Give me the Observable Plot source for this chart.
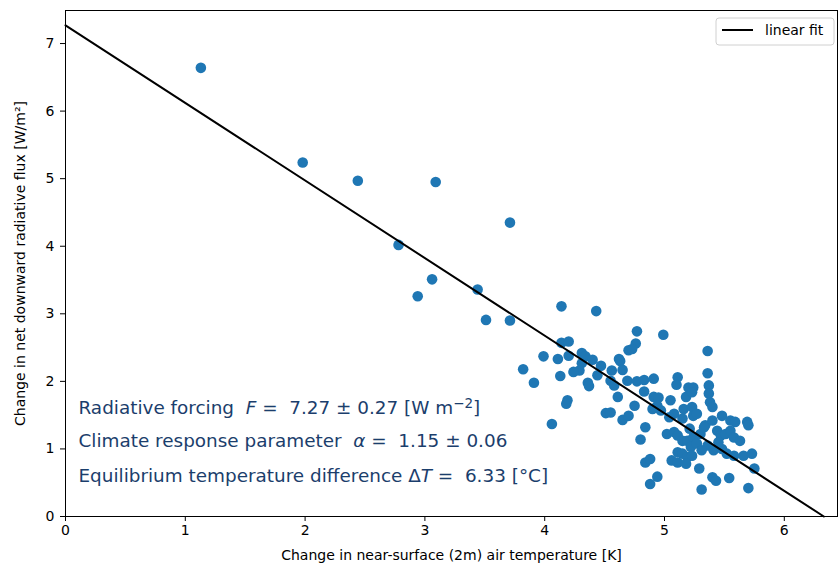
<!DOCTYPE html>
<html>
<head>
<meta charset="utf-8">
<script src="https://cdn.jsdelivr.net/npm/d3@7"></script>
<script src="https://cdn.jsdelivr.net/npm/@observablehq/plot@0.6"></script>
<style>
  html, body { margin: 0; padding: 0; background: #fff; }
  #chart { width: 838px; height: 566px; }
</style>
</head>
<body>
<div id="chart"></div>
<script>
// Temperature change [K] of each simulation
const dTemp = [
  1.13, 1.98, 2.44, 3.09, 3.71, 2.78, 3.06, 2.94, 3.44, 3.51,
  3.71, 4.14, 4.43, 4.14, 4.20, 3.99, 4.11, 4.20, 4.31, 4.34,
  4.40, 4.47, 4.31, 4.29, 4.24, 3.82, 4.13, 3.91, 4.36, 4.37,
  4.44, 4.56, 4.62, 4.63, 4.65, 4.70, 4.69, 4.55, 4.58, 4.61,
  4.19, 4.77, 4.99, 4.76, 4.73, 5.36, 5.36, 4.77, 4.83, 4.91,
  5.11, 5.10, 5.37, 5.20, 5.24, 4.83, 5.37, 4.91, 4.95, 5.05,
  5.18, 4.18, 4.51, 4.55, 4.75, 4.65, 4.70, 4.84, 4.80, 4.84,
  4.88, 4.88, 4.94, 4.90, 4.06, 5.23, 5.38, 4.94, 4.97, 5.08,
  5.04, 5.16, 5.23, 5.24, 5.27, 5.34, 5.40, 5.48, 5.55, 5.59,
  5.69, 5.70, 5.02, 5.08, 5.11, 5.15, 5.19, 5.24, 5.30, 5.33,
  5.44, 5.47, 5.51, 5.55, 5.58, 5.63, 5.22, 5.27, 5.36, 5.31,
  5.11, 5.15, 5.19, 5.23, 5.06, 5.11, 5.18, 5.41, 5.48, 5.52,
  5.58, 5.66, 5.73, 5.75, 5.29, 5.40, 5.43, 5.54, 5.70, 5.31,
  5.40, 5.21, 5.15, 5.45
];
// Net downward radiative flux change [W/m2] of each simulation
const dFlux = [
  6.64, 5.24, 4.97, 4.95, 4.35, 4.02, 3.51, 3.26, 3.36, 2.91,
  2.90, 3.11, 3.04, 2.57, 2.59, 2.37, 2.33, 2.38, 2.42, 2.37,
  2.32, 2.23, 2.27, 2.16, 2.14, 2.18, 2.08, 1.98, 1.98, 1.93,
  2.09, 2.16, 2.33, 2.30, 2.17, 2.46, 2.01, 2.01, 1.94, 1.77,
  1.72, 2.74, 2.69, 2.56, 2.48, 2.45, 2.12, 2.00, 2.02, 2.04,
  2.06, 1.95, 1.94, 1.91, 1.91, 1.85, 1.82, 1.77, 1.76, 1.72,
  1.77, 1.67, 1.53, 1.54, 1.64, 1.43, 1.49, 1.32, 1.14, 0.80,
  0.85, 0.48, 0.59, 1.59, 1.37, 1.84, 1.69, 1.64, 1.57, 1.52,
  1.47, 1.59, 1.62, 1.49, 1.52, 1.35, 1.42, 1.49, 1.42, 1.40,
  1.40, 1.35, 1.22, 1.25, 1.20, 1.12, 1.12, 1.17, 1.22, 1.32,
  1.27, 1.20, 1.22, 1.27, 1.17, 1.12, 1.03, 1.08, 1.05, 0.98,
  0.95, 0.93, 0.88, 0.90, 0.83, 0.80, 0.78, 0.98, 1.00, 0.93,
  0.90, 0.90, 0.93, 0.71, 0.71, 0.58, 0.53, 0.57, 0.42, 0.40,
  1.62, 1.30, 1.45, 1.10
];

// Fit results
const forcing = 7.27, forcingErr = 0.27;
const alpha = 1.15, alphaErr = 0.06;
const eqTemp = 6.33;

const xTicks = [0, 1, 2, 3, 4, 5, 6];
const yTicks = [0, 1, 2, 3, 4, 5, 6, 7];
const xLabel = "Change in near-surface (2m) air temperature [K]";
const yLabel = "Change in net downward radiative flux [W/m²]";
const legendLabel = "linear fit";
const noteLines = [
  `Radiative forcing  F =  ${forcing.toFixed(2)} ± ${forcingErr.toFixed(2)} [W m−2]`,
  `Climate response parameter  α =  ${alpha.toFixed(2)} ± ${alphaErr.toFixed(2)}`,
  `Equilibrium temperature difference ΔT =  ${eqTemp.toFixed(2)} [°C]`
];

const points = dTemp.map((t, i) => ({t, f: dFlux[i]}));
const fitLine = [{t: 0, f: forcing}, {t: eqTemp, f: 0}];
const notes = noteLines.map((s, i) => ({s, i}));

const noteColor = "#1b3e6c";
const plot = Plot.plot({
  width: 838,
  height: 566,
  marginLeft: 65,
  marginRight: 1,
  marginTop: 10,
  marginBottom: 50,
  style: {fontFamily: "DejaVu Sans", fontSize: "14px", color: "#000", background: "#fff"},
  x: {domain: [0, 6.444]},
  y: {domain: [0, 7.489]},
  marks: [
    Plot.dot(points, {x: "t", y: "f", r: 5.3, fill: "#1f77b4", stroke: "none"}),
    Plot.line(fitLine, {x: "t", y: "f", stroke: "#000", strokeWidth: 2}),
    Plot.axisX({ticks: xTicks, tickSize: 5, tickPadding: 4, fontSize: 14, tickFormat: d3.format("d"),
      label: xLabel, labelAnchor: "center", labelArrow: "none", labelOffset: 43, stroke: "#000"}),
    Plot.axisY({ticks: yTicks, tickSize: 5, tickPadding: 6, fontSize: 14, tickFormat: d3.format("d"),
      label: yLabel, labelAnchor: "center", labelArrow: "none", labelOffset: 50, stroke: "#000"}),
    Plot.frame({stroke: "#000", strokeWidth: 1}),
    Plot.text(notes, {text: "s", frameAnchor: "bottom-left", dx: 13,
      textAnchor: "start", lineAnchor: "middle", fill: noteColor, fontSize: 18.4,
      className: "note"})
  ]
});
document.getElementById("chart").appendChild(plot);

// place the three note lines, italicise the math symbols, raise the exponent
const noteOffsets = [-108, -75, -40];
const svg = d3.select(plot);
svg.selectAll("g.note text").each(function(d, k) {
  const el = d3.select(this);
  const cur = el.attr("transform") || "";
  el.attr("transform", cur + ` translate(0,${noteOffsets[k]})`);
  const txt = noteLines[k];
  const sym = k === 0 ? "F" : k === 1 ? "α" : "T";
  const pos = k === 2 ? txt.indexOf("ΔT") + 1 : txt.indexOf(sym + " =");
  const before = txt.slice(0, pos);
  let after = txt.slice(pos + 1);
  el.text(null);
  el.append("tspan").text(before);
  el.append("tspan").attr("font-style", "italic").text(sym);
  if (k === 0) {
    const e = after.indexOf("−2");
    el.append("tspan").text(after.slice(0, e));
    el.append("tspan").attr("font-size", 13.5).attr("dy", "-0.45em").text("−2");
    el.append("tspan").attr("dy", "0.32em").text(after.slice(e + 2));
  } else {
    el.append("tspan").text(after);
  }
});

// legend
const lg = svg.append("g").attr("font-family", "DejaVu Sans").attr("font-size", 14).attr("text-anchor", "start");
lg.append("rect").attr("x", 716).attr("y", 18).attr("width", 118).attr("height", 27)
  .attr("rx", 3).attr("fill", "#fff").attr("fill-opacity", 0.8).attr("stroke", "#d0d0d0");
lg.append("line").attr("x1", 722).attr("x2", 753).attr("y1", 30).attr("y2", 30)
  .attr("stroke", "#000").attr("stroke-width", 2);
lg.append("text").attr("x", 765).attr("y", 30).attr("dy", "0.35em").attr("fill", "#000")
  .attr("text-anchor", "start").text(legendLabel);
</script>
</body>
</html>
